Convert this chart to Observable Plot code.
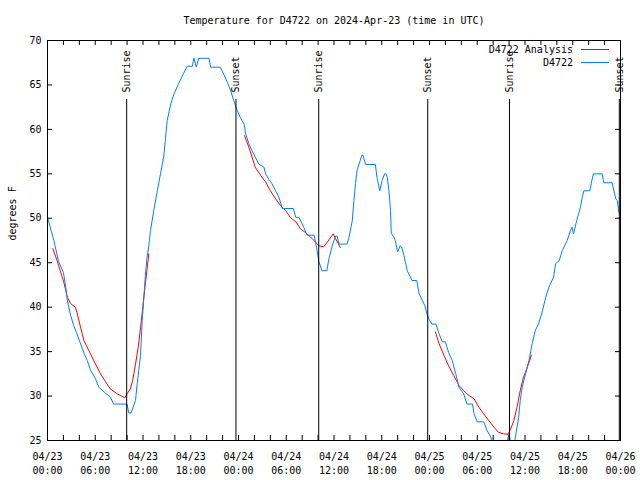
<!DOCTYPE html>
<html><head><meta charset="utf-8">
<script src="https://cdn.jsdelivr.net/npm/d3@7"></script>
<script src="https://cdn.jsdelivr.net/npm/@observablehq/plot@0.6"></script>
<style>
body{margin:0;background:#fff;}
#chart{position:relative;width:640px;height:480px;background:#fff;}
#legend{position:absolute;right:31px;top:43px;font:10px "DejaVu Sans Mono";line-height:13px;color:#000;}
#legend .row{display:flex;justify-content:flex-end;align-items:center;height:13px;}
#legend .sw{display:inline-block;width:28px;height:0;margin-left:8px;}
</style></head><body><div id="chart"></div>
<script>
const title = "Temperature for D4722 on 2024-Apr-23 (time in UTC)";
const yLabel = "degrees F";
const seriesNames = ["D4722 Analysis", "D4722"];
const seriesColors = ["#ff0000", "#0080ff"];

// hours since 2024-04-23 00:00 UTC
const blueHours = [0.0,0.4,0.8,1.4,2.0,2.3,2.5,2.9,3.3,3.7,4.15,4.6,5.0,5.4,6.0,6.45,7.3,7.9,8.3,10.0,10.2,10.5,11.06,11.27,11.47,11.69,11.9,12.1,12.3,12.5,12.73,12.94,13.36,13.8,14.2,14.6,14.8,15.04,15.5,15.9,16.5,17.1,17.55,18.2,18.4,18.7,19.0,20.3,20.5,21.7,22.15,22.6,23.0,23.4,23.8,24.25,24.7,24.9,25.3,25.7,26.1,26.55,27.2,27.4,27.8,28.2,28.65,29.07,29.5,30.9,31.2,31.6,32.2,32.6,33.5,33.8,34.1,34.5,35.1,35.35,35.8,36.2,36.4,36.6,37.65,37.9,38.3,38.5,38.7,38.9,39.3,39.5,39.65,39.96,41.2,41.4,41.75,42.05,42.35,42.55,42.7,42.9,43.1,43.2,43.5,43.7,44.0,44.3,44.5,44.8,45.2,45.6,45.8,46.4,46.7,47.1,47.4,47.7,48.0,48.3,48.8,49.2,49.6,50.0,50.4,50.85,51.3,51.7,52.3,52.7,53.4,53.6,54.0,54.8,55.25,55.7,56.0,57.6,58.0,58.3,58.6,58.8,59.2,59.4,59.65,60.07,60.5,60.9,61.3,61.7,62.2,62.6,63.0,63.6,63.85,64.3,64.7,65.3,65.7,65.9,66.1,66.5,66.97,67.2,67.4,68.15,68.4,68.6,69.7,69.9,70.95,71.4,71.6,71.8,72.0];
const blueTemps = [50.1,48.8,47.5,45.1,43.9,42.2,40.7,39.1,37.9,37.0,35.9,34.8,34.0,32.9,32.0,31.0,30.3,29.9,29.1,29.1,28.1,28.1,29.5,31.4,32.9,34.6,38.5,41.0,43.6,45.5,46.9,48.6,50.9,53.1,55.0,56.9,58.75,61.0,62.9,64.0,65.2,66.3,67.1,67.1,68.0,67.0,68.0,68.0,67.0,67.0,66.2,65.3,64.4,63.25,62.2,61.3,60.6,59.5,58.4,57.6,56.9,56.1,55.75,55.0,54.4,53.9,53.1,52.4,51.1,51.1,50.1,50.1,49.0,48.1,48.1,46.75,45.1,44.1,44.1,45.4,47.0,48.0,48.0,47.1,47.1,47.9,49.75,52.0,53.9,55.4,56.5,57.1,57.1,56.05,56.05,54.6,53.1,54.25,55.0,55.0,54.6,53.1,50.9,48.3,47.9,47.5,46.2,46.9,46.75,45.8,44.1,43.4,43.0,43.0,41.5,40.75,40.2,39.2,38.5,38.1,38.1,37.0,36.1,36.1,34.9,34.0,32.5,31.0,30.25,29.1,29.1,28.0,27.1,27.1,26.1,25.4,24.3,24.3,25.8,24.3,24.3,25.4,27.6,29.5,31.0,32.5,34.0,35.9,37.4,38.1,39.6,41.1,42.25,43.4,44.9,45.25,46.4,47.5,48.6,49.0,48.25,49.75,51.25,52.4,53.1,53.1,54.25,55.0,55.0,54.0,54.0,52.2,52.0,50.7,50.3];

// analysis: three separate runs, null marks a gap
const redHours = [0.67,1.2,1.6,2.05,2.5,2.9,3.5,3.7,4.15,4.57,5.2,6.03,6.66,7.3,7.9,8.76,9.4,9.7,10.0,10.4,10.7,11.06,11.4,11.7,11.98,12.2,12.73, 18.0,
  24.75,25.3,25.7,26.1,26.8,27.4,28.0,28.65,29.3,29.9,30.5,31.2,31.8,32.4,33.05,33.7,34.1,34.7,35.15,35.9,36.2,36.8, 42.0,
  48.75,49.2,49.8,50.4,51.05,51.7,52.3,52.9,53.6,54.2,54.8,55.45,56.1,56.7,57.35,57.85,58.2,58.6,59.0,59.4,59.8,60.3,60.8];
const redTemps = [46.6,45.25,44.1,42.8,41.1,40.4,40.0,39.4,37.75,36.25,35.1,33.6,32.5,31.6,30.8,30.25,29.95,29.8,30.25,30.8,31.75,33.6,35.5,37.75,40.0,41.9,46.0, null,
  59.3,58.0,56.9,55.75,54.8,54.1,53.1,52.2,51.4,50.9,50.1,49.6,48.8,48.4,47.9,47.3,46.9,46.8,47.3,48.25,47.7,46.7, null,
  37.2,35.9,34.6,33.4,32.3,31.2,30.6,30.1,29.7,28.75,28.0,27.25,26.5,25.9,25.75,25.7,26.3,27.25,28.75,30.6,32.1,33.25,34.6];

const sunHours = [9.95, 23.68, 34.08, 47.78, 58.05, 71.85];
const sunLabels = ["Sunrise", "Sunset", "Sunrise", "Sunset", "Sunrise", "Sunset"];

const yTicks = [25,30,35,40,45,50,55,60,65,70];
const xTickHours = [0,6,12,18,24,30,36,42,48,54,60,66,72];
const xTickLabels = ["04/23\n00:00","04/23\n06:00","04/23\n12:00","04/23\n18:00","04/24\n00:00","04/24\n06:00","04/24\n12:00","04/24\n18:00","04/25\n00:00","04/25\n06:00","04/25\n12:00","04/25\n18:00","04/26\n00:00"];
const xMinorHours = [2,4,6,8,10,12,14,16,18,20,22,24,26,28,30,32,34,36,38,40,42,44,46,48,50,52,54,56,58,60,62,64,66,68,70];

const W = 640, H = 480, mL = 47, mR = 20, mT = 40, mB = 40;
const pw = W - mL - mR, ph = H - mT - mB;

const blue = blueHours.map((t, i) => ({t, v: blueTemps[i]}));
const red = redHours.map((t, i) => ({t, v: redTemps[i]}));
const sun = sunHours.map((t, i) => ({t, label: sunLabels[i]}));

const chart = Plot.plot({
  width: W, height: H,
  marginLeft: mL, marginRight: mR, marginTop: mT, marginBottom: mB,
  style: {fontFamily: "DejaVu Sans Mono", fontSize: "10px", background: "white", color: "black"},
  x: {domain: [0, 72]},
  y: {domain: [25, 70]},
  marks: [
    Plot.line(red, {x: "t", y: "v", stroke: seriesColors[0], strokeWidth: 1, clip: true}),
    Plot.line(blue, {x: "t", y: "v", stroke: seriesColors[1], strokeWidth: 1, clip: true}),
    Plot.ruleX(sun, {x: "t", insetTop: 59, stroke: "black"}),
    Plot.text(sun, {x: "t", text: "label", frameAnchor: "top", rotate: -90, textAnchor: "start", lineAnchor: "middle", dy: 52, fill: "black"}),
    Plot.tickY(yTicks, {y: d => d, insetRight: pw - 5, stroke: "black"}),
    Plot.tickY(yTicks, {y: d => d, insetLeft: pw - 5, stroke: "black"}),
    Plot.tickX(xMinorHours, {x: d => d, insetTop: ph - 5, stroke: "black"}),
    Plot.tickX(xMinorHours, {x: d => d, insetBottom: ph - 5, stroke: "black"}),
    Plot.frame({stroke: "black"}),
    Plot.axisY(yTicks, {tickSize: 0, tickPadding: 6, label: null}),
    Plot.axisX(xTickHours, {tickSize: 0, tickPadding: 10, label: null, tickFormat: d => xTickLabels[xTickHours.indexOf(d)], lineHeight: 1.4}),
    Plot.text([title], {frameAnchor: "top", lineAnchor: "middle", dy: -20, fill: "black"}),
    Plot.text([yLabel], {frameAnchor: "left", rotate: -90, dx: -35, fill: "black"})
  ]
});
const host = document.getElementById("chart");
host.appendChild(chart);
const legend = document.createElement("div");
legend.id = "legend";
seriesNames.forEach((name, i) => {
  const row = document.createElement("div");
  row.className = "row";
  const label = document.createElement("span");
  label.textContent = name;
  const sw = document.createElement("span");
  sw.className = "sw";
  sw.style.borderTop = "1px solid " + seriesColors[i];
  row.appendChild(label); row.appendChild(sw);
  legend.appendChild(row);
});
host.appendChild(legend);
</script></body></html>
